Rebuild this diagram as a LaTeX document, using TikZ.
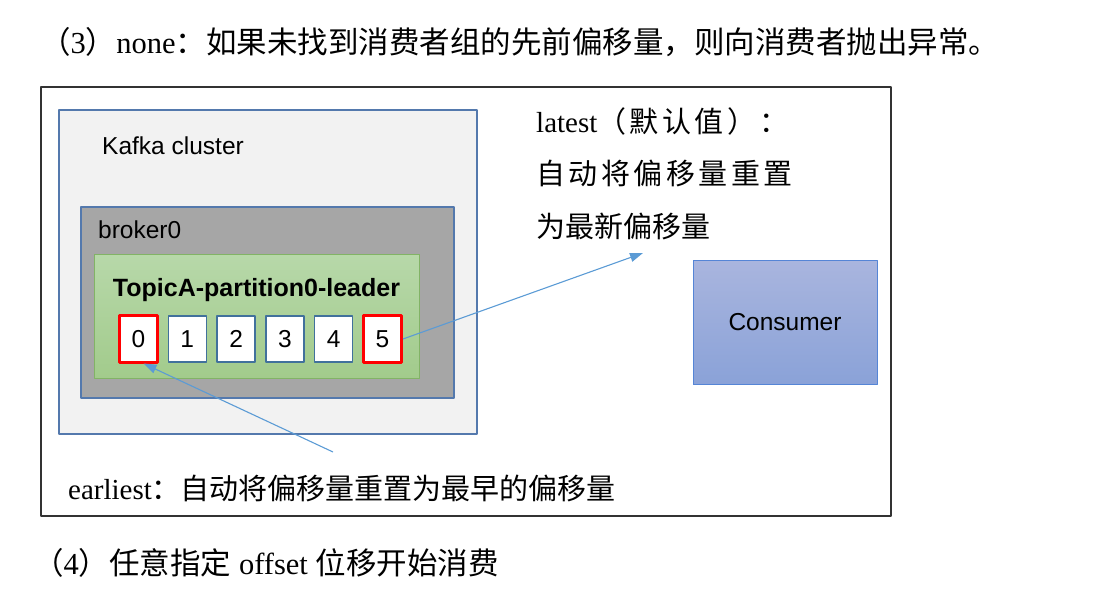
\documentclass[tikz,border=0pt]{standalone}
\usepackage{fontspec}
\setmainfont{Liberation Serif}
\setsansfont{Liberation Sans}
\newfontfamily\cjk{Noto Sans CJK SC}
\newfontfamily\cjksp[LetterSpace=12]{Noto Sans CJK SC}
\usetikzlibrary{arrows.meta}
\newcommand{\zh}[1]{{\cjk #1}}
\newcommand{\zhsp}[1]{{\cjksp #1}}
\definecolor{boxline}{HTML}{5479AD}
\definecolor{cellline}{HTML}{41719C}
\definecolor{ptrblue}{HTML}{5B9BD5}
\definecolor{greentop}{HTML}{B7D8A9}
\definecolor{greenbot}{HTML}{A2CB8C}
\definecolor{greenline}{HTML}{82B366}
\definecolor{contop}{HTML}{A9B5DE}
\definecolor{conbot}{HTML}{8AA2D8}
\definecolor{conline}{HTML}{5585D6}
\begin{document}
\begin{tikzpicture}[x=1pt, y=-1pt, line join=round, >={Triangle[length=13pt,width=9pt]},
    font=\fontsize{29}{35}\selectfont,
    txt/.style={anchor=west, inner sep=0pt},
    sans/.style={font=\sffamily\fontsize{24.5}{29}\selectfont},
    cell/.style={sans, draw=cellline, line width=1.5pt, fill=white, minimum width=38pt, minimum height=46pt, inner sep=0pt},
    hot/.style={cell, draw=red, line width=3pt},
    ptr/.style={->, draw=ptrblue, line width=1.1pt}]
\useasboundingbox (0,0) rectangle (1113,593);
% heading lines
\node[txt, font=\fontsize{30.5}{36}\selectfont] (none) at (40,42) {\zh{（}3\zh{）}none\zh{：如果未找到消费者组的先前偏移量，则向消费者抛出异常。}};
\node[txt, font=\fontsize{30.5}{36}\selectfont] (any) at (33,563) {\zh{（}4\zh{）任意指定} offset \zh{位移开始消费}};
% frame
\draw[line width=1.5pt, black!80] (41,87) rectangle (891,516);
% cluster, broker, partition
\draw[boxline, line width=2pt, fill=black!5] (59,110) rectangle (477,434);
\node[txt, sans] (cluster) at (102,146) {Kafka cluster};
\draw[boxline, line width=2pt, fill=black!35] (81,207) rectangle (454,398);
\node[txt, sans] (broker) at (98,230) {broker0};
\draw[draw=greenline, line width=1pt, top color=greentop, bottom color=greenbot] (94,255) rectangle (419,378);
\node[sans, font=\sffamily\bfseries\fontsize{25}{29}\selectfont] (topic) at (256.5,290) {TopicA-partition0-leader};
\foreach \i/\s in {0/hot,1/cell,2/cell,3/cell,4/cell,5/hot}
  \node[\s] (c\i) at ({138.5+\i*48.8},339) {\i};
% consumer
\node[sans, draw=conline, line width=1pt, top color=contop, bottom color=conbot, minimum width=184pt, minimum height=123pt] (consumer) at (785,322.5) {Consumer};
% texts
\node[txt] (latest) at (536,121) {latest\zhsp{（默认值）：}};
\node[txt] (latest2) at (536,173) {\zhsp{自动将偏移量重置}};
\node[txt] (latest3) at (536,226) {\zh{为最新偏移量}};
\node[txt] (earliest) at (68,488) {earliest\zh{：自动将偏移量重置为最早的偏移量}};
% arrows
\coordinate (lt) at (643,253);
\coordinate (es) at (333,452);
\draw[ptr] (c5.east) -- (lt);
\draw[ptr] (es) -- ([xshift=5pt]c0.south);
\end{tikzpicture}
\end{document}
